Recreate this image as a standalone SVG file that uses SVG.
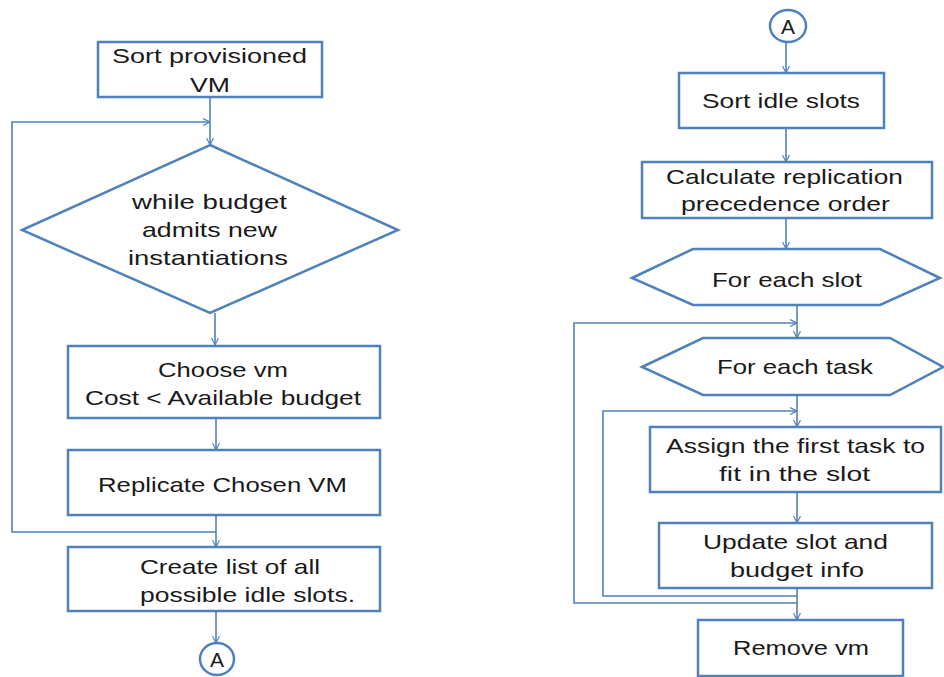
<svg xmlns="http://www.w3.org/2000/svg" width="944" height="677" viewBox="0 0 944 677">
<style>
.shape{fill:#fff;stroke:#4F81BD;stroke-width:2.5}
.conn{fill:none;stroke:#4F81BD;stroke-width:1.6}
text{font-family:"Liberation Sans",Arial,sans-serif;font-size:21px;fill:#1a1a1a}
</style>
<defs>
<marker id="arr" viewBox="0 0 10 10" refX="10" refY="5" markerWidth="7" markerHeight="10" markerUnits="userSpaceOnUse" orient="auto">
<path d="M0,0 L10,5 L0,10" fill="none" stroke="#4F81BD" stroke-width="1.6"/>
</marker>
</defs>
<rect width="944" height="677" fill="#fff"/>
<g id="connectors" class="conn">
<path d="M210,97 V145" marker-end="url(#arr)"/>
<path d="M216,532 H12 V122 H210" marker-end="url(#arr)"/>
<path d="M215,313 V345" marker-end="url(#arr)"/>
<path d="M216,418 V450" marker-end="url(#arr)"/>
<path d="M216,515 V547" marker-end="url(#arr)"/>
<path d="M216,611 V643" marker-end="url(#arr)"/>
<path d="M786,42 V73" marker-end="url(#arr)"/>
<path d="M786,128 V162" marker-end="url(#arr)"/>
<path d="M786,218 V249" marker-end="url(#arr)"/>
<path d="M797,305 V338" marker-end="url(#arr)"/>
<path d="M797,603 H574 V323 H797" marker-end="url(#arr)"/>
<path d="M797,395 V427" marker-end="url(#arr)"/>
<path d="M797,596 H603 V411 H797" marker-end="url(#arr)"/>
<path d="M797,492 V523" marker-end="url(#arr)"/>
<path d="M797,588 V620" marker-end="url(#arr)"/>
</g>
<g id="sort-vm">
<rect class="shape" x="98" y="42" width="224" height="55"/>
<text x="112" y="63" textLength="195" lengthAdjust="spacingAndGlyphs">Sort provisioned</text>
<text x="190" y="92" textLength="40" lengthAdjust="spacingAndGlyphs">VM</text>
</g>
<g id="while-budget">
<polygon class="shape" points="210,145 398,230 210,313 22,230"/>
<text x="132" y="209" textLength="155" lengthAdjust="spacingAndGlyphs">while budget</text>
<text x="142" y="237" textLength="135" lengthAdjust="spacingAndGlyphs">admits new</text>
<text x="128" y="265" textLength="160" lengthAdjust="spacingAndGlyphs">instantiations</text>
</g>
<g id="choose-vm">
<rect class="shape" x="68" y="346" width="312" height="72"/>
<text x="158" y="377" textLength="130" lengthAdjust="spacingAndGlyphs">Choose vm</text>
<text x="85" y="405" textLength="276" lengthAdjust="spacingAndGlyphs">Cost &lt; Available budget</text>
</g>
<g id="replicate">
<rect class="shape" x="68" y="450" width="312" height="65"/>
<text x="98" y="492" textLength="249" lengthAdjust="spacingAndGlyphs">Replicate Chosen VM</text>
</g>
<g id="create-list">
<rect class="shape" x="68" y="547" width="312" height="64"/>
<text x="140" y="574" textLength="180" lengthAdjust="spacingAndGlyphs">Create list of all</text>
<text x="140" y="602" textLength="215" lengthAdjust="spacingAndGlyphs">possible idle slots.</text>
</g>
<g id="connector-a-out">
<ellipse class="shape" cx="217" cy="659" rx="17" ry="16"/>
<text x="217" y="667" text-anchor="middle">A</text>
</g>
<g id="connector-a-in">
<ellipse class="shape" cx="788" cy="26" rx="18" ry="16"/>
<text x="788" y="34" text-anchor="middle">A</text>
</g>
<g id="sort-slots">
<rect class="shape" x="679" y="73" width="205" height="55"/>
<text x="702" y="108" textLength="158" lengthAdjust="spacingAndGlyphs">Sort idle slots</text>
</g>
<g id="calc-order">
<rect class="shape" x="642" y="162" width="290" height="56"/>
<text x="666" y="184" textLength="237" lengthAdjust="spacingAndGlyphs">Calculate replication</text>
<text x="681" y="211" textLength="209" lengthAdjust="spacingAndGlyphs">precedence order</text>
</g>
<g id="for-each-slot">
<polygon class="shape" points="632,278 693,249 880,249 940,278 880,305 693,305"/>
<text x="712" y="287" textLength="150" lengthAdjust="spacingAndGlyphs">For each slot</text>
</g>
<g id="for-each-task">
<polygon class="shape" points="642,367 703,338 890,338 943,367 890,395 703,395"/>
<text x="717" y="374" textLength="156" lengthAdjust="spacingAndGlyphs">For each task</text>
</g>
<g id="assign-task">
<rect class="shape" x="650" y="427" width="291" height="65"/>
<text x="666" y="453" textLength="259" lengthAdjust="spacingAndGlyphs">Assign the first task to</text>
<text x="719" y="481" textLength="151" lengthAdjust="spacingAndGlyphs">fit in the slot</text>
</g>
<g id="update-info">
<rect class="shape" x="659" y="523" width="273" height="65"/>
<text x="703" y="549" textLength="185" lengthAdjust="spacingAndGlyphs">Update slot and</text>
<text x="730" y="577" textLength="134" lengthAdjust="spacingAndGlyphs">budget info</text>
</g>
<g id="remove-vm">
<rect class="shape" x="698" y="620" width="205" height="56"/>
<text x="733" y="655" textLength="136" lengthAdjust="spacingAndGlyphs">Remove vm</text>
</g>
</svg>
